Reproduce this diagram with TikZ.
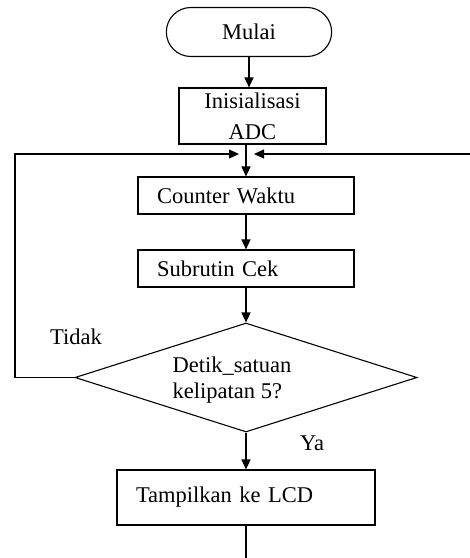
\documentclass[tikz,border=0pt]{standalone}
\usepackage{fontspec}
\setmainfont{Liberation Serif}
\usetikzlibrary{shapes.geometric,shapes.misc,arrows.meta}
\begin{document}
\begin{tikzpicture}[x=1pt,y=-1pt,
  font=\fontsize{22.5}{26}\selectfont,
  line width=1.1pt,
  arr/.style={-{Triangle[length=10pt,width=9pt]}},
  proc/.style={draw, rectangle, inner xsep=19pt, inner ysep=0pt, align=left},
  term/.style={draw, rounded rectangle, minimum width=172pt, minimum height=49pt},
  dec/.style={draw, diamond, minimum width=342pt, minimum height=109pt, inner sep=0pt},
  lbl/.style={inner sep=0pt}
]
\useasboundingbox (0,0) rectangle (470,558);

\node[term] (mulai) at (249,32) {Mulai};
\node[draw, rectangle, minimum width=147pt, minimum height=56pt, align=center, inner sep=0pt,
      font=\fontsize{22.5}{31}\selectfont] (init) at (252.5,116) {Inisialisasi\\ADC};
\node[proc, text width=178pt, minimum height=37pt] (counter) at (246,195.5) {Counter Waktu};
\node[proc, text width=178pt, minimum height=37pt] (sub) at (246,268.5) {Subrutin Cek};
\node[dec] (cek) at (246,377.5) {};
\node[lbl, align=left] (cektxt) at (232,380) {Detik\_satuan\\kelipatan 5?};
\node[proc, text width=220pt, minimum height=55pt] (tampil) at (246,497.5) {Tampilkan ke LCD};

\node[lbl] (tidak) at (76,337) {Tidak};
\node[lbl] (ya) at (312,443) {Ya};

\coordinate (ltop) at (15,154);
\coordinate (lend) at (239,154);
\coordinate (rstart) at (470,154);
\coordinate (rend) at (254,154);
\coordinate (bend) at (246,558);

\draw[arr] (mulai.south) -- (mulai.south |- init.north);
\draw[arr] (counter.north |- init.south) -- (counter.north);
\draw[arr] (counter.south) -- (sub.north);
\draw[arr] (sub.south) -- (cek.north);
\draw[arr] (cek.south) -- (tampil.north);
\draw (tampil.south) -- (bend);
\draw[arr] (cek.west) -| (ltop) -- (lend);
\draw[arr] (rstart) -- (rend);
\end{tikzpicture}
\end{document}
